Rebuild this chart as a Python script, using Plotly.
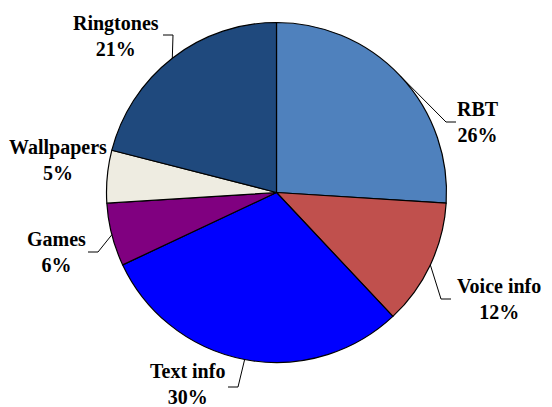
import math
import plotly.graph_objects as go

# ---- data ----
categories = ["RBT", "Voice info", "Text info", "Games", "Wallpapers", "Ringtones"]
shares = [26, 12, 30, 6, 5, 21]
colors = ["#4F81BD", "#C0504D", "#0000FF", "#800080", "#EEECE1", "#1F497D"]

# ---- label layout (pixels) : text block centre, elbow point, line end ----
label_pos = {
    "RBT": (478, 122),
    "Voice info": (499, 299),
    "Text info": (187, 384),
    "Games": (56, 252),
    "Wallpapers": (58, 160),
    "Ringtones": (116, 36),
}
elbows = {
    "RBT": ((446, 122), (456, 122)),
    "Voice info": ((441, 299), (451, 299)),
    "Text info": ((238, 387), (228, 387)),
    "Games": ((98, 252), (88, 252)),
    "Ringtones": ((173, 35), (163, 35)),
}

W, H = 552, 407
CX, CY, R = 276.5, 192.5, 170.0

def px(x):
    return x / W

def py(y):
    return 1 - y / H

fig = go.Figure()
fig.add_trace(go.Pie(
    labels=categories,
    values=shares,
    sort=False,
    direction="clockwise",
    rotation=0,
    marker=dict(colors=colors, line=dict(color="black", width=1.2)),
    textinfo="none",
    hoverinfo="label+percent",
    showlegend=False,
    domain=dict(x=[px(CX - R), px(CX + R)], y=[py(CY + R), py(CY - R)]),
))

font = dict(family="Liberation Serif, Times New Roman, serif", size=20, color="black")
total = sum(shares)
cum = 0
annotations = []
shapes = []
for cat, v in zip(categories, shares):
    mid = (cum + v / 2) / total * 2 * math.pi
    cum += v
    ex = CX + R * math.sin(mid)
    ey = CY - R * math.cos(mid)
    lx, ly = label_pos[cat]
    annotations.append(dict(
        x=px(lx), y=py(ly), xref="paper", yref="paper",
        text=f"<b>{cat}</b><br><b>{round(v / total * 100)}%</b>",
        showarrow=False, xanchor="center", yanchor="middle",
        font=font, align="center",
    ))
    if cat in elbows:
        (bx, by), (tx, ty) = elbows[cat]
        path = (f"M {px(ex)} {py(ey)} L {px(bx)} {py(by)} L {px(tx)} {py(ty)}")
        shapes.append(dict(type="path", path=path, xref="paper", yref="paper",
                           line=dict(color="black", width=1)))

fig.update_layout(
    width=W, height=H,
    margin=dict(l=0, r=0, t=0, b=0),
    paper_bgcolor="white", plot_bgcolor="white",
    annotations=annotations, shapes=shapes,
)

fig.write_html("out.html", config={"displayModeBar": False},
               post_script="document.body.style.margin='0px';document.body.style.overflow='hidden';")
